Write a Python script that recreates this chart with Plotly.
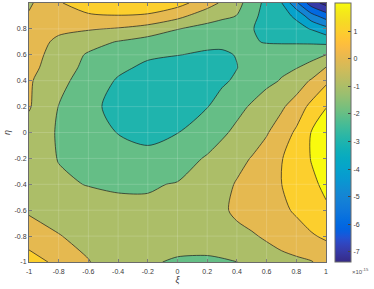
import plotly.graph_objects as go

# ---------------- data (values in units of 1e-15) ----------------
XI = [-1, -0.8, -0.6, -0.4, -0.2, 0, 0.2, 0.3, 0.4, 0.5, 0.6, 0.7, 0.8, 0.9, 1]
ETA = [-1, -0.8, -0.6, -0.4, -0.2, 0, 0.2, 0.4, 0.5, 0.6, 0.7, 0.8, 0.9, 1]

Z_ETA_M10 = [1.35, 0.8, 0.05, -0.66, -0.95, -1.05, -1.1, -1.08, -1.01, -0.8, -0.55, -0.35, -0.2, -0.05, 0.3]
Z_ETA_M08 = [0.6, 0.05, -0.35, -0.6, -0.75, -0.8, -0.7, -0.55, -0.35, -0.12, 0.15, 0.45, 0.7, 0.9, 1.15]
Z_ETA_M06 = [-0.15, -0.45, -0.65, -0.8, -0.85, -0.8, -0.55, -0.2, 0.25, 0.5, 0.7, 0.85, 1.1, 1.5, 1.9]
Z_ETA_M04 = [-0.65, -0.88, -1.03, -1.1, -1.08, -0.95, -0.6, -0.3, 0.08, 0.4, 0.7, 0.99, 1.45, 1.85, 2.15]
Z_ETA_M02 = [-0.55, -1.03, -1.55, -1.8, -1.75, -1.45, -0.9, -0.6, -0.3, 0.05, 0.45, 0.95, 1.5, 2.03, 2.3]
Z_ETA_P00 = [-0.35, -1.1, -1.65, -2.02, -2.25, -2.02, -1.55, -1.15, -0.8, -0.5, -0.08, 0.5, 1.15, 2.02, 2.3]
Z_ETA_P02 = [0.08, -1.02, -1.75, -2.3, -2.55, -2.5, -2.03, -1.6, -1.25, -0.9, -0.55, -0.15, 0.45, 1.25, 1.98]
Z_ETA_P04 = [0.12, -0.75, -1.4, -2.1, -2.45, -2.55, -2.4, -2.15, -1.85, -1.5, -1.2, -0.95, -0.55, 0.1, 0.8]
Z_ETA_P05 = [0.3, -0.55, -1.25, -1.8, -2.2, -2.35, -2.3, -2.18, -2.02, -1.6, -1.35, -1.15, -1.03, -0.75, 0.05]
Z_ETA_P06 = [0.45, -0.45, -1.1, -1.55, -1.85, -1.98, -2.1, -2.1, -1.97, -1.8, -1.6, -1.55, -1.45, -1.25, -1.0]
Z_ETA_P07 = [0.6, -0.25, -0.65, -1.05, -1.4, -1.62, -1.82, -1.85, -1.85, -1.93, -2.05, -2.08, -2.1, -2.15, -2.25]
Z_ETA_P08 = [0.45, 0.25, 0.08, -0.08, -0.4, -0.97, -1.3, -1.5, -1.7, -1.95, -2.3, -2.5, -2.7, -3.05, -3.65]
Z_ETA_P09 = [0.1, 0.6, 0.85, 0.95, 0.85, 0.3, -0.6, -0.8, -1.02, -1.7, -2.4, -2.7, -3.15, -4.6, -5.5]
Z_ETA_P10 = [-0.15, 0.9, 1.6, 1.85, 1.75, 1.35, 0.45, -0.15, -0.7, -1.45, -2.3, -2.95, -4.8, -6.5, -7.37]

Z = [Z_ETA_M10, Z_ETA_M08, Z_ETA_M06, Z_ETA_M04, Z_ETA_M02, Z_ETA_P00, Z_ETA_P02,
     Z_ETA_P04, Z_ETA_P05, Z_ETA_P06, Z_ETA_P07, Z_ETA_P08, Z_ETA_P09, Z_ETA_P10]

LEVEL_START, LEVEL_END, LEVEL_STEP = -7, 2, 1
CBAR_RANGE = [-7.37, 2.02]
AXIS_TICKS = [-1, -0.8, -0.6, -0.4, -0.2, 0, 0.2, 0.4, 0.6, 0.8, 1]
CBAR_TICKS = [-7, -6, -5, -4, -3, -2, -1, 0, 1]
EXP_LABEL = "×10<sup>-15</sup>"

# ---------------- parula colormap ----------------
PARULA = [
    [0.2081, 0.1663, 0.5292], [0.2116, 0.1898, 0.5777], [0.2123, 0.2138, 0.6270], [0.2081, 0.2386, 0.6771],
    [0.1959, 0.2645, 0.7279], [0.1707, 0.2919, 0.7792], [0.1253, 0.3242, 0.8303], [0.0591, 0.3598, 0.8683],
    [0.0117, 0.3875, 0.8820], [0.0060, 0.4086, 0.8828], [0.0165, 0.4266, 0.8786], [0.0329, 0.4430, 0.8720],
    [0.0498, 0.4586, 0.8641], [0.0629, 0.4737, 0.8554], [0.0723, 0.4887, 0.8467], [0.0779, 0.5040, 0.8384],
    [0.0793, 0.5200, 0.8312], [0.0749, 0.5375, 0.8263], [0.0641, 0.5570, 0.8240], [0.0488, 0.5772, 0.8228],
    [0.0343, 0.5966, 0.8199], [0.0265, 0.6137, 0.8135], [0.0239, 0.6287, 0.8038], [0.0231, 0.6418, 0.7913],
    [0.0228, 0.6535, 0.7768], [0.0267, 0.6642, 0.7607], [0.0384, 0.6743, 0.7436], [0.0590, 0.6838, 0.7254],
    [0.0843, 0.6928, 0.7062], [0.1133, 0.7015, 0.6859], [0.1453, 0.7098, 0.6646], [0.1801, 0.7177, 0.6424],
    [0.2178, 0.7250, 0.6193], [0.2586, 0.7317, 0.5954], [0.3022, 0.7376, 0.5712], [0.3482, 0.7424, 0.5473],
    [0.3953, 0.7459, 0.5244], [0.4420, 0.7481, 0.5033], [0.4871, 0.7491, 0.4840], [0.5300, 0.7491, 0.4661],
    [0.5709, 0.7485, 0.4494], [0.6099, 0.7473, 0.4337], [0.6473, 0.7456, 0.4188], [0.6834, 0.7435, 0.4044],
    [0.7184, 0.7411, 0.3905], [0.7525, 0.7384, 0.3768], [0.7858, 0.7356, 0.3633], [0.8185, 0.7327, 0.3498],
    [0.8507, 0.7299, 0.3360], [0.8824, 0.7274, 0.3217], [0.9139, 0.7258, 0.3063], [0.9450, 0.7261, 0.2886],
    [0.9739, 0.7314, 0.2666], [0.9938, 0.7455, 0.2403], [0.9990, 0.7653, 0.2164], [0.9955, 0.7861, 0.1967],
    [0.9880, 0.8066, 0.1794], [0.9789, 0.8271, 0.1633], [0.9697, 0.8481, 0.1475], [0.9626, 0.8705, 0.1309],
    [0.9589, 0.8949, 0.1132], [0.9598, 0.9218, 0.0948], [0.9661, 0.9514, 0.0755], [0.9763, 0.9831, 0.0538],
]


def parula(t):
    t = min(max(t, 0.0), 1.0)
    p = t * (len(PARULA) - 1)
    i = min(int(p), len(PARULA) - 2)
    f = p - i
    c = [PARULA[i][k] * (1 - f) + PARULA[i + 1][k] * f for k in range(3)]
    return "rgb(%d,%d,%d)" % tuple(round(255 * v) for v in c)


PARULA_SCALE = [[i / (len(PARULA) - 1), parula(i / (len(PARULA) - 1))] for i in range(len(PARULA))]

# MATLAB-like band colours: each band coloured at its lower level
levels = list(range(LEVEL_START, LEVEL_END + 1, LEVEL_STEP))
nband = len(levels)
crng = CBAR_RANGE[1] - CBAR_RANGE[0]
band_scale = [[0.0, parula(0.0)]]
for k, L in enumerate(levels, start=1):
    band_scale.append([k / nband, parula((L - CBAR_RANGE[0]) / crng)])

FONT = "Liberation Sans, Arial, Helvetica, sans-serif"
TXT = "#3a3a3a"
AXC = "#6b6b6b"

fig = go.Figure()
fig.add_trace(go.Contour(
    x=XI, y=ETA, z=Z,
    autocontour=False,
    contours=dict(start=LEVEL_START, end=LEVEL_END, size=LEVEL_STEP, coloring="fill"),
    colorscale=band_scale, showscale=False,
    line=dict(color="#1e1e1e", width=0.7, smoothing=0.8),
    hoverinfo="skip",
))
# invisible carrier of the continuous colour bar (point lies outside the axis ranges)
fig.add_trace(go.Scatter(
    x=[50], y=[50], mode="markers", hoverinfo="skip", showlegend=False, cliponaxis=True,
    marker=dict(size=1, line=dict(width=0), color=[CBAR_RANGE[0]],
                colorscale=PARULA_SCALE, cmin=CBAR_RANGE[0], cmax=CBAR_RANGE[1],
                showscale=True,
                colorbar=dict(x=(335 - 29) / 297, xanchor="left", xpad=0, ypad=0,
                              y=0.5, yanchor="middle", len=1, lenmode="fraction",
                              thickness=16, thicknessmode="pixels",
                              outlinewidth=1, outlinecolor=AXC,
                              tickvals=CBAR_TICKS, ticktext=[f"{v:g}" for v in CBAR_TICKS],
                              ticks="inside", ticklen=3, tickcolor="#444",
                              tickfont=dict(family=FONT, size=7, color=TXT))),
))

shapes = []
for v in AXIS_TICKS[1:-1]:
    shapes.append(dict(type="line", xref="x", yref="y", x0=v, x1=v, y0=AXIS_TICKS[0], y1=AXIS_TICKS[-1],
                       line=dict(color="rgba(255,255,255,0.16)", width=1), layer="above"))
    shapes.append(dict(type="line", xref="x", yref="y", y0=v, y1=v, x0=AXIS_TICKS[0], x1=AXIS_TICKS[-1],
                       line=dict(color="rgba(255,255,255,0.16)", width=1), layer="above"))

axis_common = dict(range=[AXIS_TICKS[0], AXIS_TICKS[-1]], tickvals=AXIS_TICKS,
                   ticktext=[f"{v:g}" for v in AXIS_TICKS],
                   ticks="inside", ticklen=3, tickcolor=AXC, showline=True, linecolor=AXC,
                   linewidth=1, mirror="ticks", showgrid=False, zeroline=False,
                   tickfont=dict(family=FONT, size=7, color=TXT), automargin=False)

fig.update_layout(
    width=374, height=289,
    margin=dict(l=29, r=48, t=3, b=27),
    paper_bgcolor="white", plot_bgcolor="white",
    font=dict(family=FONT, color=TXT),
    showlegend=False,
    shapes=shapes,
    xaxis=dict(**axis_common, ticklabelstandoff=3,
               title=dict(text="<i>ξ</i>", font=dict(family=FONT, size=9, color=TXT), standoff=0)),
    yaxis=dict(**axis_common,
               title=dict(text="<i>η</i>", font=dict(family=FONT, size=9, color=TXT), standoff=2)),
    annotations=[dict(text=EXP_LABEL, xref="paper", yref="paper", x=(350 - 29) / 297, y=-9 / 259,
                      xanchor="left", yanchor="middle", showarrow=False,
                      font=dict(family=FONT, size=6, color="#555"))],
)

fig.write_html("out.html", config={"displayModeBar": False, "staticPlot": True},
               post_script="document.body.style.margin='0px';document.body.style.overflow='hidden';")
